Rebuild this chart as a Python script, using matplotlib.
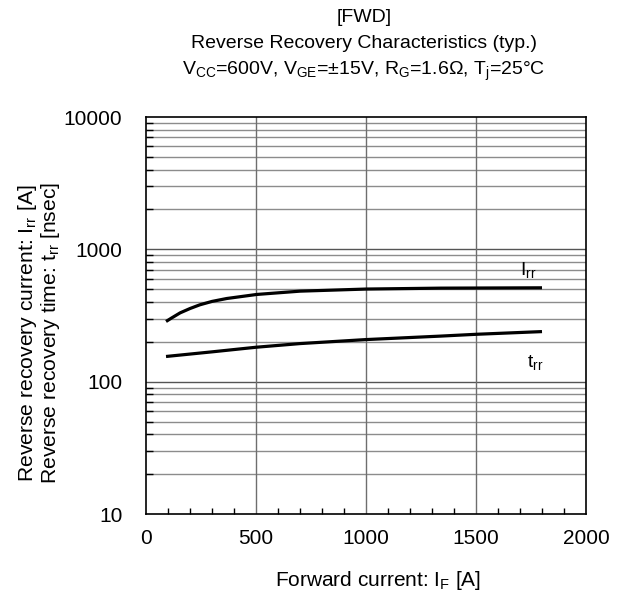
import matplotlib
matplotlib.use('Agg')
import matplotlib.pyplot as plt
from matplotlib.ticker import FixedLocator, NullFormatter, MultipleLocator

plt.rcParams['font.family'] = ['Liberation Sans', 'DejaVu Sans']
plt.rcParams['mathtext.fontset'] = 'custom'
plt.rcParams['mathtext.rm'] = 'Liberation Sans'
plt.rcParams['mathtext.it'] = 'Liberation Sans'

# data
irr_if = [91, 118, 155, 200, 245, 300, 367, 503, 700, 1000, 1340, 1800]
i_rr = [285, 304, 331, 357, 381, 404, 425, 456, 483, 501, 509, 512]
trr_if = [91, 300, 500, 700, 1000, 1340, 1500, 1800]
t_rr = [155, 168, 182, 194, 208, 221, 228, 239]

x_ticks = [0, 500, 1000, 1500, 2000]
y_ticks = [10, 100, 1000, 10000]

fig = plt.figure(figsize=(6.18, 5.97), dpi=100)
fig.set_facecolor('white')
ax = fig.add_axes([146 / 618, 1 - 514 / 597, 440 / 618, 397 / 597])

ax.set_yscale('log')
ax.set_xlim(0, 2000)
ax.set_ylim(10, 10000)

# grid
minors = [m * 10 ** e for e in range(1, 4) for m in range(2, 10)]
for y in minors:
    ax.axhline(y, color='#8c8c8c', lw=1.0, zorder=1)
for y in [100, 1000]:
    ax.axhline(y, color='#555555', lw=1.0, zorder=1)
for x in [500, 1000, 1500]:
    ax.axvline(x, color='#6e6e6e', lw=1.0, zorder=1)

ax.plot(irr_if, i_rr, color='black', lw=2.3, zorder=3, solid_capstyle='butt')
ax.plot(trr_if, t_rr, color='black', lw=2.3, zorder=3, solid_capstyle='butt')

ax.text(1698, 640, r'$\mathregular{I_{rr}}$', fontsize=14, zorder=4)
ax.text(1732, 130, r'$\mathregular{t_{rr}}$', fontsize=14, zorder=4)

ax.xaxis.set_major_locator(FixedLocator(x_ticks))
ax.xaxis.set_minor_locator(MultipleLocator(100))
ax.yaxis.set_major_locator(FixedLocator(y_ticks))
ax.yaxis.set_minor_locator(FixedLocator(minors))
ax.yaxis.set_minor_formatter(NullFormatter())
ax.set_yticklabels([str(v) for v in y_ticks])
ax.tick_params(which='both', direction='in', top=False, right=False,
               labelsize=15, width=1.0, color='black')
ax.tick_params(which='major', length=0)
ax.tick_params(axis='x', which='major', pad=11)
ax.tick_params(axis='y', which='major', pad=17)
ax.tick_params(which='minor', length=4)
ax.tick_params(axis='y', which='minor', length=5)
for s in ax.spines.values():
    s.set_linewidth(1.2)
    s.set_color('black')
    s.set_zorder(5)

ax.set_xlabel(r'Forward current: $\mathregular{I_F}$ [A]', fontsize=15)
ax.xaxis.set_label_coords((378 - 146) / 440, -(569 - 514) / 397)
ax.set_ylabel('Reverse recovery current: $\\mathregular{I_{rr}}$ [A]\n'
              'Reverse recovery time: $\\mathregular{t_{rr}}$ [nsec]',
              fontsize=15.2, linespacing=1.0)
ax.yaxis.set_label_coords(-(146 - 62) / 440, (514 - 333) / 397)

fig.text(364 / 618, 1 - 17 / 597, '[FWD]', ha='center', va='center', fontsize=14)
fig.text(364 / 618, 1 - 44 / 597, 'Reverse Recovery Characteristics (typ.)',
         ha='center', va='center', fontsize=14)
fig.text(364 / 618, 1 - 71 / 597,
         r'$\mathregular{V_{CC}}$=600V, $\mathregular{V_{GE}}$=±15V, '
         r'$\mathregular{R_G}$=1.6Ω, $\mathregular{T_j}$=25°C',
         ha='center', va='center', fontsize=14)

fig.savefig('out.png', dpi=100)
